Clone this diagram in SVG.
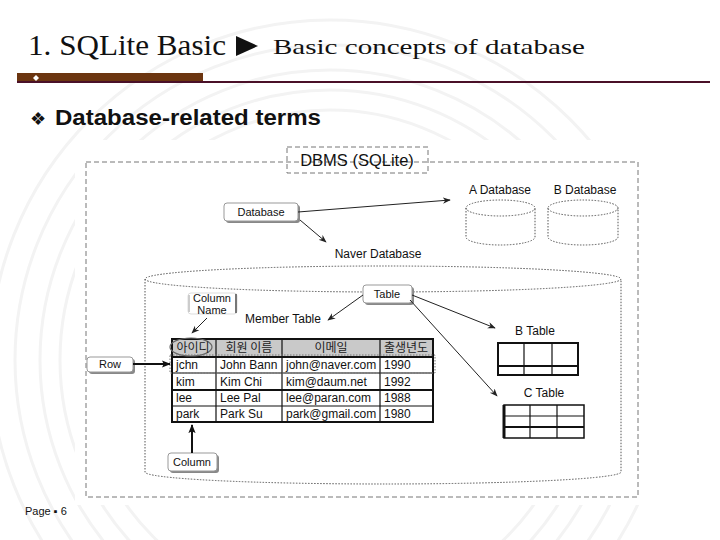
<svg xmlns="http://www.w3.org/2000/svg" width="720" height="540" viewBox="0 0 720 540">
<defs>
<style>
.t{font-family:"Liberation Sans","Noto Sans CJK KR",Arial,sans-serif;fill:#111}
.kr{font-family:"Noto Sans CJK KR","Liberation Sans",sans-serif;fill:#222}
.dash{fill:none;stroke:#777;stroke-width:1;stroke-dasharray:5 3}
.dot{fill:none;stroke:#555;stroke-width:1;stroke-dasharray:1.5 1.5}
.box{fill:#fff;stroke:#999;stroke-width:1}
.shadow{fill:#888}
.conn{fill:none;stroke:#222;stroke-width:1}
.thick{fill:none;stroke:#111;stroke-width:2}
.grid{fill:none;stroke:#111;stroke-width:1.2}
.wm{fill:none;stroke:#f3f3f3;stroke-width:3}
</style>
<marker id="ah" viewBox="0 0 10 10" refX="9" refY="5" markerWidth="8" markerHeight="8" orient="auto-start-reverse" markerUnits="userSpaceOnUse">
<path d="M0,1 L10,5 L0,9 L3,5 z" fill="#222"/>
</marker>
<marker id="ahb" viewBox="0 0 10 10" refX="9" refY="5" markerWidth="9" markerHeight="9" orient="auto" markerUnits="userSpaceOnUse">
<path d="M0,1 L10,5 L0,9 L2,5 z" fill="#111"/>
</marker>
</defs>
<rect width="720" height="540" fill="#fff"/>
<g id="watermark">
<circle cx="330" cy="360" r="250" class="wm"/>
<circle cx="330" cy="360" r="270" class="wm"/>
<circle cx="330" cy="360" r="290" class="wm"/>
<circle cx="330" cy="360" r="315" class="wm"/>
<circle cx="330" cy="360" r="340" class="wm"/>
</g>
<g id="header">
<text x="28" y="55" font-family="Liberation Serif,serif" font-size="29" fill="#111" textLength="198" lengthAdjust="spacingAndGlyphs">1. SQLite Basic</text>
<path d="M236,36 L258,46 L236,56 z" fill="#111"/>
<text x="273" y="54" font-family="Liberation Serif,serif" font-size="22" fill="#111" textLength="312" lengthAdjust="spacingAndGlyphs">Basic concepts of database</text>
<rect x="17" y="73" width="186" height="9" fill="#6b3510"/>
<rect x="17" y="81" width="693" height="2" fill="#4a1028"/>
<path d="M36,75 L39,78 L36,81 L33,78 z" fill="#fff"/>
<text x="30" y="125" font-family="Liberation Sans,sans-serif" font-size="18" fill="#111">❖</text>
<text x="55" y="125" font-family="Liberation Sans,sans-serif" font-size="22" font-weight="bold" fill="#111" textLength="266" lengthAdjust="spacingAndGlyphs">Database-related terms</text>
</g>
<rect x="75" y="140" width="645" height="365" fill="#fff"/>
<g id="dbms">
<rect x="86" y="162" width="552" height="335" class="dash"/>
<rect x="287" y="147" width="141" height="26" fill="#fff" class="dash"/>
<text x="357" y="166" class="t" font-size="16.5" text-anchor="middle" fill="#333">DBMS (SQLite)</text>
</g>
<g id="a-database">
<text x="500" y="194" class="t" font-size="12" text-anchor="middle">A Database</text>
<path d="M466,208 L466,237 A34.5,8 0 0 0 535,237 L535,208" class="dot"/>
<ellipse cx="500.5" cy="208" rx="34.5" ry="8" class="dot"/>
</g>
<g id="b-database">
<text x="585" y="194" class="t" font-size="12" text-anchor="middle">B Database</text>
<path d="M548,208 L548,237 A35,8 0 0 0 618,237 L618,208" class="dot"/>
<ellipse cx="583" cy="208" rx="35" ry="8" class="dot"/>
</g>
<g id="database-label">
<rect x="226" y="205" width="74" height="18" rx="3" class="shadow"/>
<rect x="224" y="203" width="74" height="18" rx="3" class="box"/>
<text x="261" y="216" class="t" font-size="11" text-anchor="middle">Database</text>
</g>
<g id="naver-database">
<text x="378" y="258" class="t" font-size="12" text-anchor="middle">Naver Database</text>
<path d="M145,279 L145,472 A238,12 0 0 0 621,472 L621,279" class="dot"/>
<ellipse cx="383" cy="279" rx="238" ry="13" class="dot"/>
</g>
<g id="table-label">
<rect x="365" y="287" width="49" height="18" rx="3" class="shadow"/>
<rect x="363" y="285" width="49" height="18" rx="3" class="box"/>
<text x="387" y="298" class="t" font-size="11" text-anchor="middle">Table</text>
</g>
<g id="column-name-label">
<rect x="188" y="293" width="49" height="21" rx="3" fill="#fff" stroke="#ddd"/>
<path d="M189,295 L189,312" stroke="#ccc" stroke-width="2"/>
<path d="M236,294 L236,313" stroke="#777" stroke-width="2"/>
<text x="212" y="302" class="t" font-size="11" text-anchor="middle">Column</text>
<text x="212" y="314" class="t" font-size="11" text-anchor="middle">Name</text>
</g>
<g id="member-table">
<text x="283" y="323" class="t" font-size="12" text-anchor="middle">Member Table</text>
<rect x="172" y="339" width="261" height="18" fill="#c9c9c9"/>
<rect x="172" y="339" width="261" height="83" class="thick"/>
<path d="M216,339 V422 M282,339 V422 M380,339 V422" class="grid"/>
<path d="M172,357 H433" stroke="#111" stroke-width="2"/>
<path d="M172,373 H433" class="grid"/>
<path d="M172,390 H433" stroke="#111" stroke-width="2"/>
<path d="M172,406 H433" class="grid"/>
<ellipse cx="191" cy="347" rx="21" ry="9" fill="none" stroke="#666" stroke-width="1.2"/>
<text x="193" y="352" class="kr" font-size="12" text-anchor="middle">아이디</text>
<text x="249" y="352" class="kr" font-size="12" text-anchor="middle">회원 이름</text>
<text x="331" y="352" class="kr" font-size="12" text-anchor="middle">이메일</text>
<text x="406" y="352" class="kr" font-size="12" text-anchor="middle">출생년도</text>
<g class="t" font-size="12" fill="#333">
<text x="176" y="369">jchn</text><text x="220" y="369">John Bann</text><text x="286" y="369">john@naver.com</text><text x="384" y="369">1990</text>
<text x="176" y="386">kim</text><text x="220" y="386">Kim Chi</text><text x="286" y="386">kim@daum.net</text><text x="384" y="386">1992</text>
<text x="176" y="402">lee</text><text x="220" y="402">Lee Pal</text><text x="286" y="402">lee@paran.com</text><text x="384" y="402">1988</text>
<text x="176" y="418">park</text><text x="220" y="418">Park Su</text><text x="286" y="418">park@gmail.com</text><text x="384" y="418">1980</text>
</g>
<rect x="170" y="355" width="265" height="18" fill="none" stroke="#777" stroke-dasharray="1.5 1.5"/>
</g>
<g id="row-label">
<rect x="89" y="359" width="46" height="15" rx="3" class="shadow"/>
<rect x="87" y="357" width="46" height="15" rx="3" class="box"/>
<text x="110" y="368" class="t" font-size="11" text-anchor="middle">Row</text>
</g>
<g id="column-label">
<rect x="170" y="455" width="49" height="18" rx="3" class="shadow"/>
<rect x="168" y="453" width="49" height="18" rx="3" class="box"/>
<text x="192" y="466" class="t" font-size="11" text-anchor="middle">Column</text>
</g>
<g id="b-table">
<text x="535" y="335" class="t" font-size="12" text-anchor="middle">B Table</text>
<rect x="498" y="343" width="80" height="32" stroke="#111" stroke-width="2" fill="none"/>
<path d="M524,343 V375 M552,343 V375" class="grid"/>
<path d="M498,366 H578" stroke="#111" stroke-width="2"/>
</g>
<g id="c-table">
<text x="544" y="397" class="t" font-size="12" text-anchor="middle">C Table</text>
<rect x="504" y="405" width="80" height="33" stroke="#111" stroke-width="1.5" fill="none"/>
<path d="M504,405 V438" stroke="#111" stroke-width="3"/>
<path d="M530,405 V438 M557,405 V438 M504,416 H584" class="grid"/>
<path d="M504,427 H584" stroke="#111" stroke-width="2"/>
</g>
<g id="connectors">
<path d="M298,212 L450,200" class="conn" marker-end="url(#ah)"/>
<path d="M300,220 L326,242" class="conn" marker-end="url(#ah)"/>
<path d="M363,295 L328,320" class="conn" marker-end="url(#ah)"/>
<path d="M412,295 L495,328" class="conn" marker-end="url(#ah)"/>
<path d="M410,300 L497,396" class="conn" marker-end="url(#ah)"/>
<path d="M207,318 L192,333" class="conn" marker-end="url(#ah)"/>
<path d="M133,364 L170,364" stroke="#111" stroke-width="2" fill="none" marker-end="url(#ahb)"/>
<path d="M192,453 L192,425" stroke="#111" stroke-width="2" fill="none" marker-end="url(#ahb)"/>
</g>
<text x="25" y="515" class="t" font-size="11" fill="#222">Page ▪ 6</text>
</svg>
